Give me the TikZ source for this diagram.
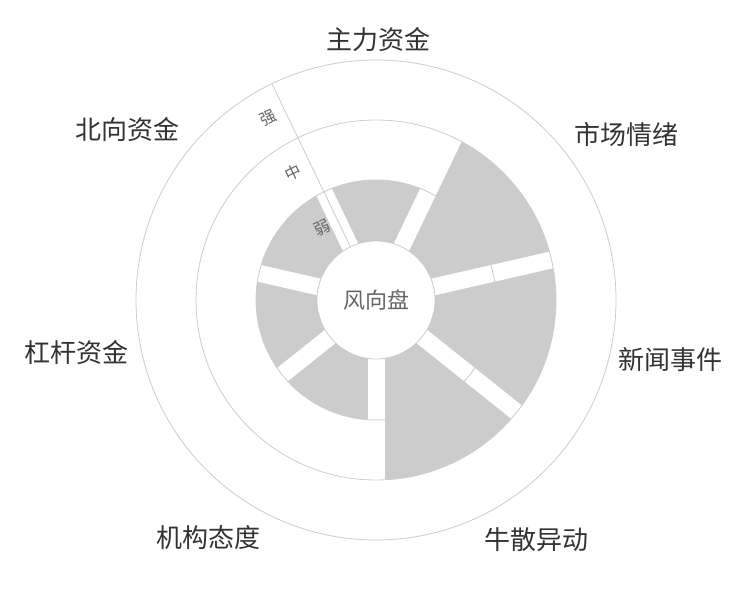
\documentclass[tikz,border=0pt]{standalone}
\usepackage{fontspec}
\setmainfont{Noto Sans CJK SC}
\begin{document}
\begin{tikzpicture}[x=1pt,y=1pt,
  bar/.style={fill=barg},
  ring/.style={draw=ringc,line width=0.8pt},
  gapline/.style={draw=white,line width=17pt},
  cat/.style={text=catc,font=\fontsize{26}{30}\selectfont,inner sep=0pt},
  tick/.style={text=tickc,font=\fontsize{16}{18}\selectfont,inner sep=0pt}]
\definecolor{barg}{HTML}{CCCCCC}
\definecolor{ringc}{HTML}{CCCCCC}
\definecolor{catc}{HTML}{333333}
\definecolor{tickc}{HTML}{666666}
\useasboundingbox (0,0) rectangle (750,600);
\fill[white] (0,0) rectangle (750,600);
\coordinate (O) at (376,300);
% bars: centre angle, value
\foreach \c/\v in {90/120, 38.57/180, -12.86/180, -64.29/180, -115.71/120, -167.14/120, 141.43/120}{
  \fill[bar] (O) -- ++(\c-25.714:\v) arc[start angle=\c-25.714, end angle=\c+25.714, radius=\v] -- cycle;
}
% gaps
\foreach \b in {115.71, 64.29, 12.86, -38.57, -90, -141.43, -192.86}{
  \draw[gapline] (O) -- ++(\b:181);
}
% rings
\draw[ring] (O) circle[radius=120];
\draw[ring] (O) circle[radius=180];
\draw[ring] (O) circle[radius=240];
\draw[ring] (O) -- ++(115.71:240);
\fill[white] (O) circle[radius=59];
\draw[ring] (O) circle[radius=59];
\node[text=tickc,font=\fontsize{22}{24}\selectfont] (hub) at (O) {风向盘};
% tick labels
\node[tick,rotate=25.7] (t1) at (322,372) {弱};
\node[tick,rotate=25.7] (t2) at (293,427) {中};
\node[tick,rotate=25.7] (t3) at (268,482) {强};
% categories
\node[cat] (c1) at (378,560) {主力资金};
\node[cat] (c2) at (626,465) {市场情绪};
\node[cat] (c3) at (670,240) {新闻事件};
\node[cat] (c4) at (536,60) {牛散异动};
\node[cat] (c5) at (208,62) {机构态度};
\node[cat] (c6) at (76,247) {杠杆资金};
\node[cat] (c7) at (127,470) {北向资金};
\end{tikzpicture}
\end{document}
